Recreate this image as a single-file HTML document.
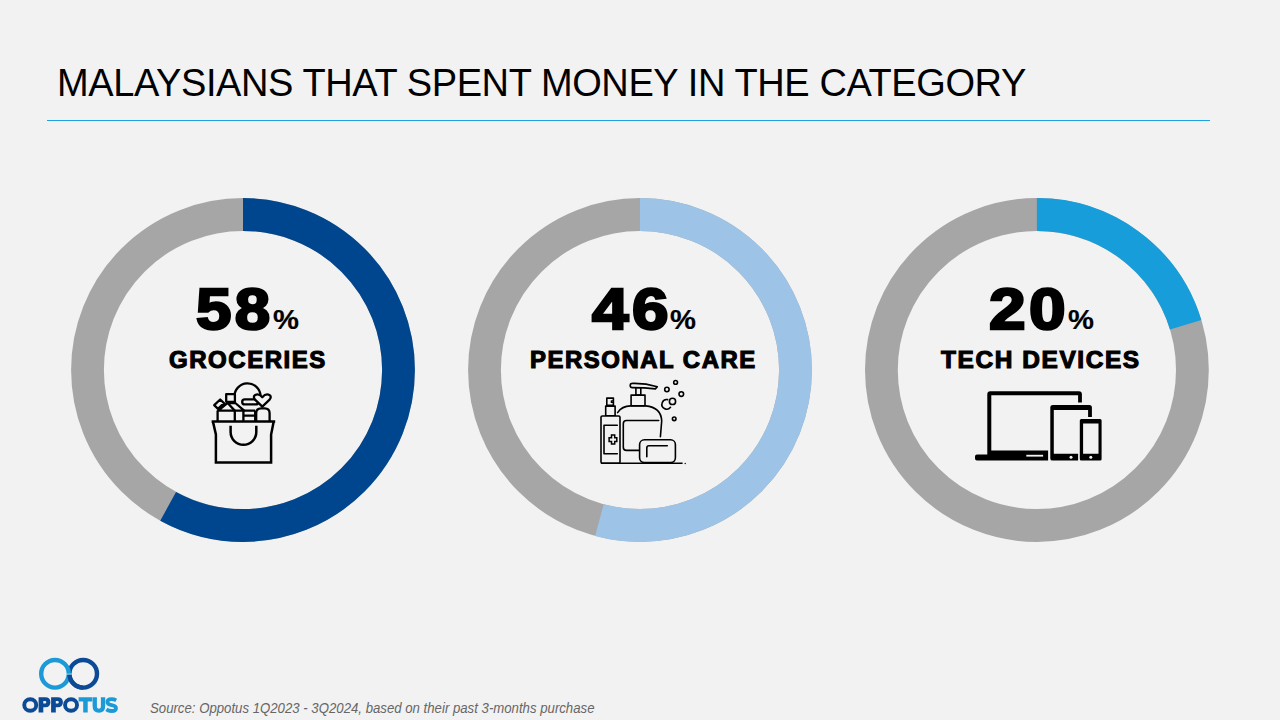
<!DOCTYPE html>
<html><head><meta charset="utf-8">
<style>
html,body{margin:0;padding:0;}
body{width:1280px;height:720px;background:#f2f2f2;position:relative;overflow:hidden;font-family:"Liberation Sans",sans-serif;}
.t{position:absolute;white-space:nowrap;line-height:1;color:#000;transform-origin:0 0;}
.title{left:57px;top:64px;font-size:38px;letter-spacing:-0.4px;}
.rule{position:absolute;left:47px;top:120px;width:1162.5px;height:1px;background:#1ba4e0;}
svg{position:absolute;overflow:visible;}
.n{font-weight:bold;font-size:57.5px;-webkit-text-stroke:2.5px #000;letter-spacing:3px;top:281.3px;}
.p{font-weight:bold;font-size:27px;-webkit-text-stroke:0.2px #000;top:307.3px;transform:scaleX(1.08);}
.l{font-weight:bold;font-size:23.3px;-webkit-text-stroke:1.1px #000;letter-spacing:1.5px;top:349px;}
.src{left:149.5px;top:701px;font-size:14.2px;font-style:italic;color:#666;transform:scaleX(0.93);}
</style></head><body>
<div class="t title">MALAYSIANS THAT SPENT MONEY IN THE CATEGORY</div>
<div class="rule"></div>

<svg style="left:0;top:0" width="1280" height="720" viewBox="0 0 1280 720">
  <g transform="translate(243,370)">
    <circle r="155.5" fill="none" stroke="#a6a6a6" stroke-width="32.8"/>
    <circle r="155.5" fill="none" stroke="#00468e" stroke-width="32.8" stroke-dasharray="566.4 2000" transform="rotate(-90)"/>
  </g>
  <g transform="translate(640,370)">
    <circle r="155.5" fill="none" stroke="#a6a6a6" stroke-width="32.8"/>
    <circle r="155.5" fill="none" stroke="#9dc3e6" stroke-width="32.8" stroke-dasharray="529.4 2000" transform="rotate(-90)"/>
  </g>
  <g transform="translate(1036.9,370)">
    <circle r="155.5" fill="none" stroke="#a6a6a6" stroke-width="32.8"/>
    <circle r="155.5" fill="none" stroke="#179dd9" stroke-width="32.8" stroke-dasharray="198.3 2000" transform="rotate(-90)"/>
  </g>
</svg>

<div class="t n" style="left:195.5px;transform:scaleX(1.106)">58</div>
<div class="t p" style="left:273px">%</div>
<div class="t l" style="left:168.7px;transform:scaleX(1.03)">GROCERIES</div>

<div class="t n" style="left:592px;transform:scaleX(1.142)">46</div>
<div class="t p" style="left:670px">%</div>
<div class="t l" style="left:530.4px;transform:scaleX(1.026)">PERSONAL CARE</div>

<div class="t n" style="left:988.5px;transform:scaleX(1.145)">20</div>
<div class="t p" style="left:1067.5px">%</div>
<div class="t l" style="left:941.2px;transform:scaleX(1.05)">TECH DEVICES</div>

<svg style="left:0;top:0" width="1280" height="720" viewBox="0 0 1280 720">
  <!-- grocery bag -->
  <g fill="none" stroke="#000" stroke-width="2.3" stroke-linejoin="round">
    <path d="M234.4,397 A13.1,13.1 0 0 1 260.6,396"/>
    <rect x="226.2" y="394.2" width="8.7" height="7.6" fill="#f2f2f2"/>
    <path d="M214.2,405.2 L220.2,399.5 L224,403.1 L218,408.8 Z" fill="#f2f2f2"/>
    <path d="M218.2,410.6 L227.4,403 L235.3,403 L244.2,410.6 Z" fill="#f2f2f2"/>
    <path d="M227.9,403.3 L234.7,410.6"/>
    <path d="M217.6,410.6 L217.6,421 M234.8,410.6 L234.8,421 M243.4,410.6 L243.4,421 M243.4,410.7 L255.2,410.7 M243.4,415.6 L255.2,415.6 M255.2,410.7 L255.2,421"/>
    <rect x="242.2" y="399.4" width="16" height="5" rx="2.5" fill="#f2f2f2"/>
    <path d="M256.2,421 L256.2,413.2 Q256.2,408.3 261.1,408.3 L264.7,408.3 Q269.6,408.3 269.6,413.2 L269.6,421" fill="#f2f2f2"/>
    <path d="M262.3,406.6 L255,399.6 Q252.6,396.6 255.2,395 Q258.8,393.2 262.3,397.2 Q265.8,393.2 269.4,395 Q272,396.6 269.6,399.6 Z" fill="#f2f2f2"/>
  </g>
  <g fill="none" stroke="#000" stroke-width="2.5" stroke-linejoin="round">
    <path d="M211.6,421.4 L275.2,421.4"/>
    <path d="M213,421.9 L215.9,434.5 L215.9,462.4 L271.1,462.4 L271.1,434.5 L273.6,421.9" stroke-linejoin="miter"/>
    <path d="M230.6,425.7 L230.6,432 A12.85,12.85 0 0 0 256.3,432 L256.3,425.7"/>
  </g>

  <!-- personal care -->
  <g fill="none" stroke="#000" stroke-width="1.6" stroke-linejoin="round" stroke-linecap="round">
    <path d="M617.6,412.6 Q622,406 630.6,405.9 L645.6,405.9 Q661.2,407.5 661.7,421 L660.4,436.7"/>
    <path d="M658.7,420.5 L626.5,420.5 Q623.3,420.5 623.3,423.7 L623.3,447.2 Q623.3,450.4 626.5,450.4 L639,450.4"/>
    <rect x="631.1" y="395.1" width="13.9" height="10.7"/>
    <rect x="635.9" y="387.4" width="4.9" height="7.7"/>
    <path d="M632.3,383.4 Q645,383 657.3,386.8 L655.4,388.9 Q645,387.6 632.3,387.6 Q630.2,387.6 630.2,385.5 Q630.2,383.4 632.3,383.4 Z" fill="#f2f2f2"/>
    <rect x="606.8" y="398.1" width="6.6" height="7.3"/>
    <path d="M613.2,400.8 L611.3,400.8 L611.3,402.4 L613.2,402.4" stroke-width="1.2"/>
    <rect x="605.7" y="406.1" width="9.4" height="9.7"/>
    <rect x="601" y="416" width="19" height="47.3" rx="1.3" fill="#f2f2f2"/>
    <path d="M617.3,425.3 L604,425.3 L604,453.8 L617.3,453.8"/>
    <path d="M611.5,434.9 L614.7,434.9 L614.7,437.8 L616.8,437.8 L616.8,441.6 L614.7,441.6 L614.7,444 L611.5,444 L611.5,441.6 L609.1,441.6 L609.1,437.8 L611.5,437.8 Z" stroke-width="1.5" stroke-linejoin="miter"/>
    <rect x="639.6" y="439.8" width="35.8" height="22.7" rx="4.8" fill="#f2f2f2"/>
    <path d="M646.8,456.7 L646.8,448 Q646.8,445.8 649,445.8 L667.3,445.8"/>
    <path d="M601,463.3 L682.6,463.3" stroke-linecap="butt"/>
    <circle cx="685.2" cy="463.5" r="0.7" fill="#000" stroke="none"/>
    <circle cx="675.6" cy="382.4" r="1.9"/>
    <circle cx="666.9" cy="389.5" r="2.2"/>
    <circle cx="681.3" cy="394.1" r="2.3"/>
    <circle cx="672.5" cy="401.4" r="3.1"/>
    <path d="M667.6,399.6 A4.8,4.8 0 1 0 670.5,407.3"/>
    <circle cx="674.2" cy="418.8" r="1.8"/>
  </g>

  <!-- tech devices -->
  <g fill="#000">
    <path fill-rule="evenodd" d="M990.3,391.3 L1078.9,391.3 Q1081.9,391.3 1081.9,394.3 L1081.9,402.5 L1078.1,402.5 L1078.1,395.2 L991.3,395.2 L991.3,450.6 L1048.1,450.6 L1048.1,460.6 L977,460.6 Q975,460.6 975,458.5 L975,456.5 Q975,454.4 977,454.4 L987.3,454.4 L987.3,394.3 Q987.3,391.3 990.3,391.3 Z"/>
    <rect x="1026.3" y="454.8" width="16.8" height="1.8" fill="#f2f2f2"/>
    <path d="M1052.8,405 L1089.4,405 Q1091.9,405 1091.9,407.5 L1091.9,416.9 L1088.1,416.9 L1088.1,410 L1053.8,410 L1053.8,453.8 L1078.1,453.8 L1078.1,460.6 L1052.5,460.6 Q1050.3,460.6 1050.3,458.4 L1050.3,407.5 Q1050.3,405 1052.8,405 Z"/>
    <circle cx="1071" cy="457.3" r="1.5" fill="#f2f2f2"/>
    <path fill-rule="evenodd" d="M1081.3,419 L1100.1,419 Q1101.6,419 1101.6,420.5 L1101.6,459.1 Q1101.6,460.6 1100.1,460.6 L1081.3,460.6 Q1079.8,460.6 1079.8,459.1 L1079.8,420.5 Q1079.8,419 1081.3,419 Z M1083.1,423.5 L1083.1,453.8 L1098.5,453.8 L1098.5,423.5 Z"/>
    <circle cx="1090.8" cy="457.3" r="1.5" fill="#f2f2f2"/>
  </g>
</svg>

<svg style="left:0;top:640px" width="140" height="80" viewBox="0 640 140 80">
  <circle cx="83.2" cy="673.8" r="13.8" fill="none" stroke="#0c4a95" stroke-width="4.4"/>
  <circle cx="55" cy="673.8" r="13.8" fill="none" stroke="#1b9ad7" stroke-width="4.4"/>
  <path d="M69.4,674.6 A13.8,13.8 0 0 0 83.2,687.6" fill="none" stroke="#0c4a95" stroke-width="4.4"/>
  <path d="M66.5,674.1 L72,674.1" stroke="#f2f2f2" stroke-width="0.6"/>
</svg>
<svg style="left:0;top:690px" width="130" height="30" viewBox="0 690 130 30">
  <g fill="#0c4a95">
    <ellipse cx="30.25" cy="705" rx="6" ry="5.8" fill="none" stroke="#0c4a95" stroke-width="3.9"/>
    <path fill-rule="evenodd" d="M38.6,697.3 L45.2,697.3 Q50.4,697.3 50.4,702.3 Q50.4,707.3 45.2,707.3 L43.3,707.3 L43.3,712.6 L38.6,712.6 Z M43.3,701.1 L43.3,703.6 L45,703.6 Q46.3,703.6 46.3,702.35 Q46.3,701.1 45,701.1 Z"/>
    <path fill-rule="evenodd" d="M51.1,697.3 L57.7,697.3 Q62.9,697.3 62.9,702.3 Q62.9,707.3 57.7,707.3 L55.8,707.3 L55.8,712.6 L51.1,712.6 Z M55.8,701.1 L55.8,703.6 L57.5,703.6 Q58.8,703.6 58.8,702.35 Q58.8,701.1 57.5,701.1 Z"/>
    <ellipse cx="71.05" cy="705" rx="6" ry="5.8" fill="none" stroke="#0c4a95" stroke-width="3.9"/>
  </g>
  <g fill="#1b9ad7">
    <path d="M78.6,697.3 L92.3,697.3 L92.3,701.4 L87.7,701.4 L87.7,712.6 L83.2,712.6 L83.2,701.4 L78.6,701.4 Z"/>
    <path d="M92.6,697.3 L96.9,697.3 L96.9,706 Q96.9,708.8 98.9,708.8 Q100.9,708.8 100.9,706 L100.9,697.3 L105.2,697.3 L105.2,706 Q105.2,712.8 98.9,712.8 Q92.6,712.8 92.6,706 Z"/>
    <path d="M116.2,700.3 Q114,699.1 111.6,699.1 Q107.4,699.1 107.4,702 Q107.4,704.4 111.6,705.1 Q116,705.8 116,708.2 Q116,711 111.6,711 Q108.6,711 106.4,709.4" fill="none" stroke="#1b9ad7" stroke-width="3.8"/>
  </g>
</svg>
<div class="t src">Source: Oppotus 1Q2023 - 3Q2024, based on their past 3-months purchase</div>
</body></html>
